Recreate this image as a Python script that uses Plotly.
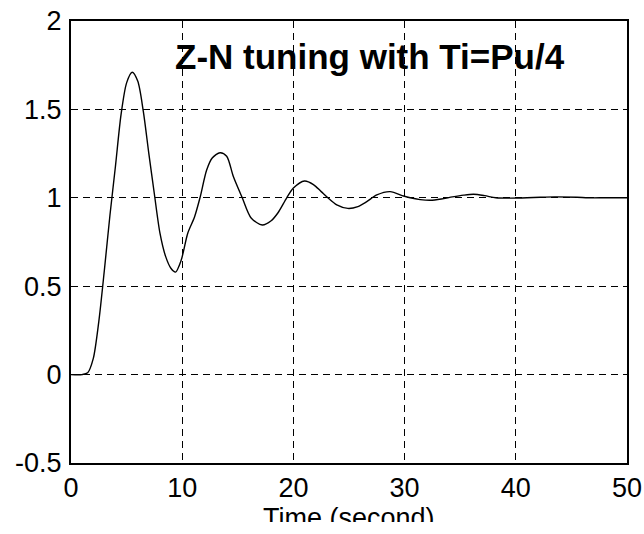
import plotly.graph_objects as go

# step response
time = [0, 1.0, 1.5, 2.0, 2.5, 3.0, 3.5, 4.0, 4.5, 5.0, 5.5, 6.0, 6.5, 7.0, 7.5,
        8.0, 8.5, 9.0, 9.4, 9.9, 10.5, 11.1, 11.6, 12.2, 12.7, 13.4, 14.0, 14.6,
        15.4, 16.2, 17.2, 18.0, 18.6, 19.4, 20.0, 21.0, 21.8, 22.5, 23.1, 23.9,
        24.9, 25.8, 26.6, 27.5, 28.7, 29.9, 30.5, 31.4, 32.3, 33.3, 34.3, 35.3,
        36.2, 37.2, 38.2, 39.5, 41.0, 42.2, 43.5, 45.5, 46.5, 48.0, 50.0]
response = [0, 0, 0.01, 0.09, 0.3, 0.59, 0.9, 1.18, 1.47, 1.65, 1.71, 1.66, 1.49,
            1.25, 1.02, 0.80, 0.67, 0.60, 0.58, 0.645, 0.80, 0.89, 1.0, 1.157,
            1.225, 1.255, 1.235, 1.12, 1.0, 0.886, 0.846, 0.87, 0.914, 1.0, 1.055,
            1.095, 1.075, 1.035, 1.0, 0.96, 0.94, 0.95, 0.978, 1.016, 1.035, 1.01,
            1.0, 0.99, 0.986, 0.993, 1.005, 1.015, 1.02, 1.012, 1.0, 0.998, 1.0,
            1.003, 1.005, 1.003, 1.0, 1.0, 1.0]

x_ticks = [0, 10, 20, 30, 40, 50]
y_ticks = [-0.5, 0, 0.5, 1, 1.5, 2]
y_ticktext = ['-0.5', '0', '0.5', '1', '1.5', '2']

font_name = "Liberation Sans, Arial, sans-serif"

fig = go.Figure()
fig.add_trace(go.Scatter(
    x=time, y=response, mode='lines',
    line=dict(color='black', width=1.4, shape='spline', smoothing=0.8),
    showlegend=False, hoverinfo='skip'
))

fig.add_annotation(
    x=26.9, y=1.80, xref='x', yref='y',
    text='<b>Z-N tuning with Ti=Pu/4</b>', showarrow=False,
    font=dict(family=font_name, size=35, color='black'),
    xanchor='center', yanchor='middle'
)

# x axis title, partly cut off at the bottom like the reference
fig.add_annotation(
    x=0.5, y=-0.087, xref='paper', yref='paper',
    text='Time (second)', showarrow=False,
    font=dict(family=font_name, size=27, color='black'),
    xanchor='center', yanchor='top'
)

axis_common = dict(
    showgrid=True, gridcolor='black', gridwidth=1, griddash='7px,5px',
    showline=True, linecolor='black', linewidth=2, mirror=True,
    zeroline=False, ticks='', automargin=False,
    tickfont=dict(family=font_name, size=27, color='black'),
)

fig.update_xaxes(range=[0, 50], tickvals=x_ticks, ticklabelstandoff=0, **axis_common)
fig.update_yaxes(range=[-0.5, 2], tickvals=y_ticks, ticktext=y_ticktext,
                 ticklabelstandoff=2, **axis_common)

fig.update_layout(
    width=644, height=522,
    margin=dict(l=71, r=17, t=21, b=59),
    plot_bgcolor='white', paper_bgcolor='white',
    font=dict(family=font_name, color='black'),
)

# drop the default 8px page margin so the figure sits at the window corner
fig.write_html("out.html", config={'displayModeBar': False},
               post_script="document.body.style.margin='0';")
